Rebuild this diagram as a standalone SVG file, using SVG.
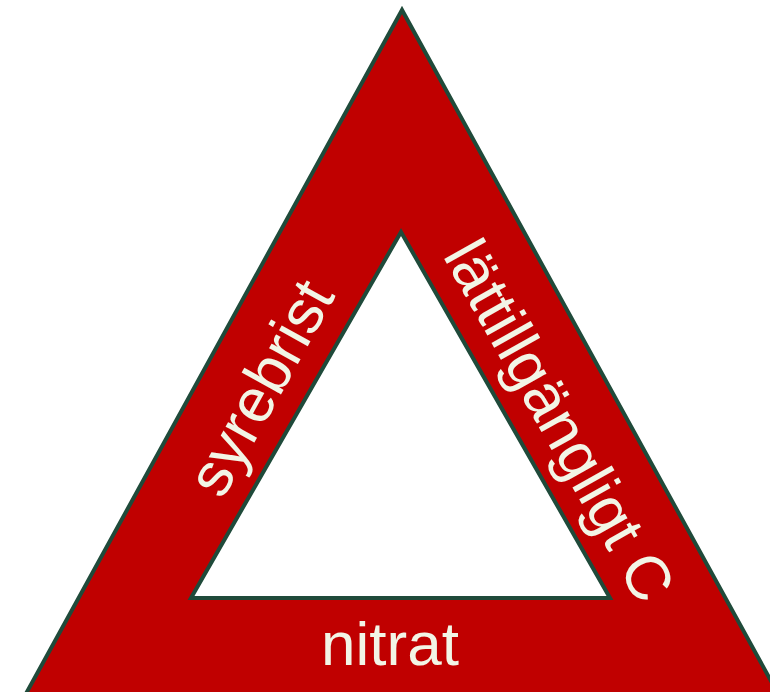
<svg xmlns="http://www.w3.org/2000/svg" width="770" height="692" viewBox="0 0 770 692">
<style>
.tri{fill:#C00000;stroke:#1F4A3A;stroke-width:4;stroke-linejoin:miter}
.hole{fill:#FFFFFF;stroke:#1F4A3A;stroke-width:4;stroke-linejoin:miter}
.lbl{font-family:"Liberation Sans",Arial,sans-serif;font-size:62px;fill:#F2F5E6;text-anchor:middle}
</style>
<rect width="770" height="692" fill="#FFFFFF"/>
<g id="triangle">
<path class="tri" fill-rule="evenodd" d="M402,10 L-5,750 L809,750 Z"/>
<path class="hole" d="M401,232 L191,598 L610,598 Z"/>
</g>
<g id="labels">
<text id="syrebrist" class="lbl" transform="translate(279,398) rotate(-61)">syrebrist</text>
<text id="lattillgangligt" class="lbl" transform="translate(541,431) rotate(60.7)">lättillgängligt C</text>
<text id="nitrat" class="lbl" x="390" y="665">nitrat</text>
</g>
<g id="connectors"/>
</svg>
